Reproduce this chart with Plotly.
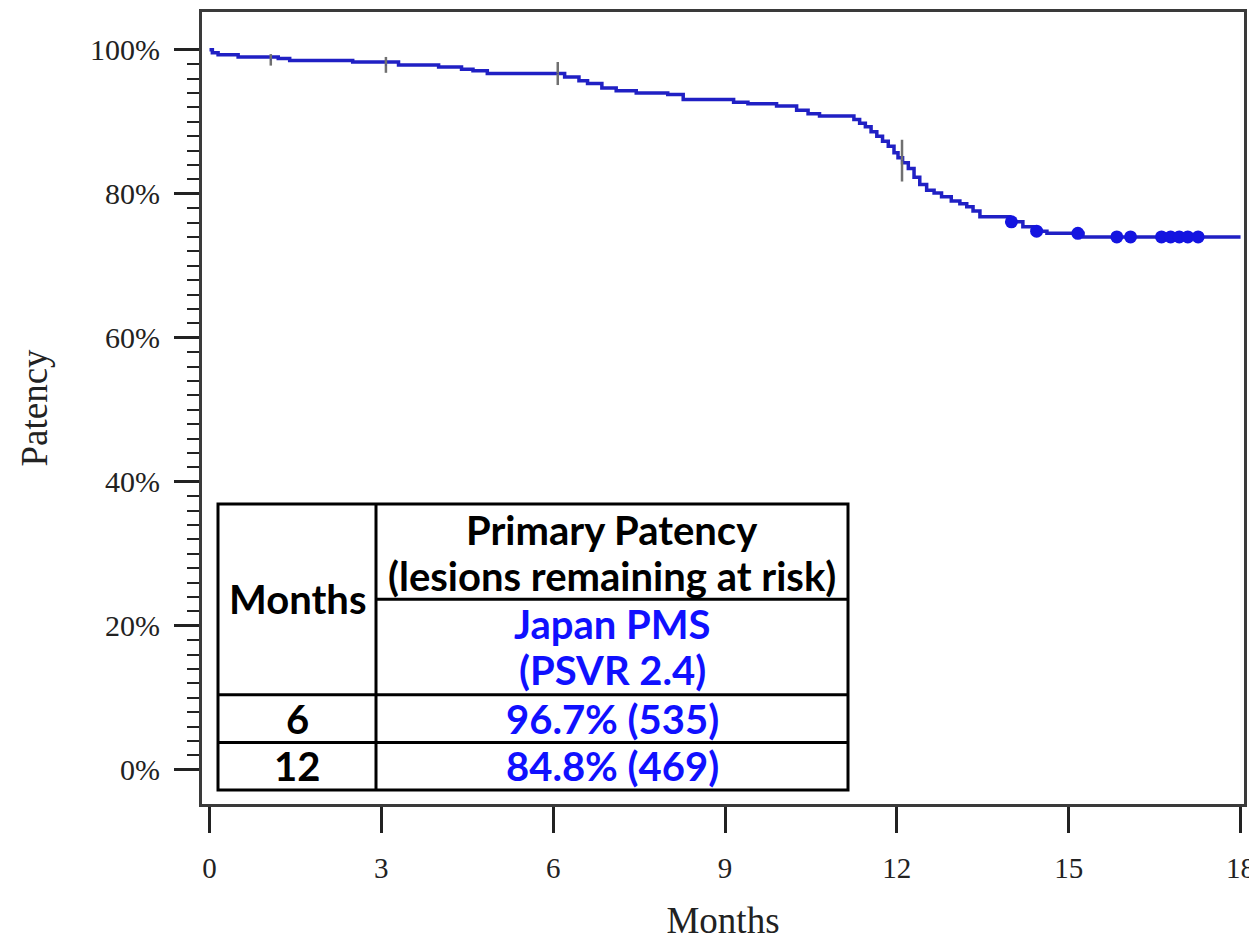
import plotly.graph_objects as go

# ---------------- data ----------------
km_time = [0, 0.05, 0.15, 0.5, 1.2, 1.4, 2.5, 3.3, 4.0, 4.4, 4.6, 4.85, 6.2, 6.45, 6.6,
           6.85, 7.1, 7.45, 8.0, 8.27, 9.15, 9.4, 9.9, 10.25, 10.45, 10.65, 11.25, 11.35,
           11.45, 11.55, 11.65, 11.75, 11.85, 11.95, 12.02, 12.1, 12.2, 12.3, 12.4, 12.52,
           12.65, 12.78, 12.95, 13.1, 13.22, 13.33, 13.45, 13.97, 14.2, 14.42, 14.62, 15.25, 18.0]
km_surv = [100, 99.6, 99.3, 99.0, 98.8, 98.5, 98.3, 97.9, 97.6, 97.3, 97.1, 96.7, 96.2, 95.7, 95.3,
           94.7, 94.3, 94.0, 93.8, 93.1, 92.7, 92.5, 92.2, 91.6, 91.1, 90.8, 90.3, 89.8,
           89.3, 88.6, 88.0, 87.3, 86.6, 85.7, 85.0, 84.3, 83.5, 82.3, 81.3, 80.5,
           80.1, 79.6, 79.0, 78.6, 78.2, 77.6, 76.8, 76.1, 75.4, 74.8, 74.5, 74.0, 74.0]

censor_time = [14.0, 14.44, 15.16, 15.84, 16.08, 16.62, 16.78, 16.93, 17.08, 17.26]

ci_time = [1.07, 3.08, 6.08, 12.09]
ci_center = [98.6, 97.9, 96.7, 84.6]
ci_half = [0.8, 1.1, 1.6, 2.9]

x_ticks = [0, 3, 6, 9, 12, 15, 18]
y_ticks = [0, 20, 40, 60, 80, 100]
y_tick_labels = ["0%", "20%", "40%", "60%", "80%", "100%"]
y_minor = [v for v in range(2, 100, 2) if v % 20 != 0]

tbl_col1_header = "Months"
tbl_col2_header = ["Primary Patency", "(lesions remaining at risk)"]
tbl_group = ["Japan PMS", "(PSVR 2.4)"]
tbl_months = ["6", "12"]
tbl_values = ["96.7% (535)", "84.8% (469)"]


def surv_at(t):
    v = km_surv[0]
    for tt, s in zip(km_time, km_surv):
        if tt <= t:
            v = s
    return v


censor_surv = [surv_at(t) for t in censor_time]

# ---------------- layout geometry (page pixels; page body has an 8px margin) ----------------
OFF = 8
W, H = 1257 - OFF, 949 - 2 * OFF
L, R, T, B = 202 - OFF, 1244 - OFF, 9 - OFF, 806 - OFF   # plot area in figure pixels
X0PX, XPX = 209.5 - OFF, 57.28      # x=0 position and px per month
Y0PX, YPX = 771.5 - OFF, 7.245      # y=0 position and px per percent


def px(x):
    return (x - OFF - L) / (R - L)


def py(y):
    return (B - (y - OFF)) / (B - T)


BLUE_LINE = "#2020c4"
BLUE_DOT = "#1414e0"
BLUE_TXT = "#1010ff"

fig = go.Figure()
fig.add_trace(go.Scatter(x=km_time, y=km_surv, mode="lines", line=dict(shape="hv", color=BLUE_LINE, width=3.5),
                         showlegend=False, hoverinfo="skip"))
fig.add_trace(go.Scatter(x=ci_time, y=ci_center, mode="markers", marker=dict(size=1, color=BLUE_LINE),
                         error_y=dict(type="data", array=ci_half, symmetric=True, width=0, thickness=2.5,
                                      color="#707070"),
                         showlegend=False, hoverinfo="skip"))
fig.add_trace(go.Scatter(x=censor_time, y=censor_surv, mode="markers",
                         marker=dict(size=13, color=BLUE_DOT, line=dict(width=0)),
                         showlegend=False, hoverinfo="skip"))

serif = "Liberation Serif"
fig.update_layout(
    width=W, height=H,
    margin=dict(l=L, r=W - R, t=T, b=H - B, pad=0),
    paper_bgcolor="white", plot_bgcolor="white",
    xaxis=dict(range=[(L - X0PX) / XPX, (R - X0PX) / XPX], tickvals=x_ticks,
               ticks="outside", ticklen=26, tickwidth=2.5, tickcolor="#222",
               showline=True, mirror=True, linewidth=3, linecolor="#3a3a3a",
               showgrid=False, zeroline=False, ticklabelstandoff=10,
               tickfont=dict(family=serif, size=29, color="#222"),
               title=dict(text="Months", font=dict(family=serif, size=37, color="#222"), standoff=30)),
    yaxis=dict(range=[(Y0PX - B) / YPX, (Y0PX - T) / YPX], tickvals=y_ticks, ticktext=y_tick_labels,
               ticks="outside", ticklen=25, tickwidth=2.5, tickcolor="#222",
               minor=dict(tickmode="array", tickvals=y_minor, ticks="outside", ticklen=12,
                          tickwidth=2.2, tickcolor="#222"),
               showline=True, mirror=True, linewidth=3, linecolor="#3a3a3a",
               showgrid=False, zeroline=False, ticklabelstandoff=8,
               tickfont=dict(family=serif, size=30, color="#222"),
               title=dict(text="Patency", font=dict(family=serif, size=37, color="#222"), standoff=32)),
)

# ---------------- table overlay (page pixel positions) ----------------
tl, tr, tt, tb = 218, 848, 504, 792
cdiv = 376
hsplit, r1, r2 = 600, 696, 744
lw = 3
shapes = [
    dict(type="rect", xref="paper", yref="paper", x0=px(tl), x1=px(tr), y0=py(tb), y1=py(tt),
         line=dict(color="black", width=lw), fillcolor="white", layer="above"),
    dict(type="line", xref="paper", yref="paper", x0=px(cdiv), x1=px(cdiv), y0=py(tb), y1=py(tt),
         line=dict(color="black", width=lw)),
    dict(type="line", xref="paper", yref="paper", x0=px(cdiv), x1=px(tr), y0=py(hsplit), y1=py(hsplit),
         line=dict(color="black", width=lw)),
    dict(type="line", xref="paper", yref="paper", x0=px(tl), x1=px(tr), y0=py(r1), y1=py(r1),
         line=dict(color="black", width=lw)),
    dict(type="line", xref="paper", yref="paper", x0=px(tl), x1=px(tr), y0=py(r2), y1=py(r2),
         line=dict(color="black", width=lw)),
]
fig.update_layout(shapes=shapes)

tfont = "Lato"
fs = 40
c1x = (tl + cdiv) / 2
c2x = (cdiv + tr) / 2
ann = []


def add_text(x, y, text, color):
    ann.append(dict(xref="paper", yref="paper", x=px(x), y=py(y), text="<b>%s</b>" % text,
                    showarrow=False, xanchor="center", yanchor="middle",
                    font=dict(family=tfont, size=fs, color=color)))


add_text(c1x, (tt + r1) / 2, tbl_col1_header, "black")
add_text(c2x, 530, tbl_col2_header[0], "black")
add_text(c2x, 577, tbl_col2_header[1], "black")
add_text(c2x, 625, tbl_group[0], BLUE_TXT)
add_text(c2x, 671, tbl_group[1], BLUE_TXT)
for i, (m, v) in enumerate(zip(tbl_months, tbl_values)):
    yc = (r1 + r2) / 2 if i == 0 else (r2 + tb) / 2
    add_text(c1x, yc, m, "black")
    add_text(c2x, yc, v, BLUE_TXT)
fig.update_layout(annotations=ann)

fig.write_html("out.html", config={"displayModeBar": False})
